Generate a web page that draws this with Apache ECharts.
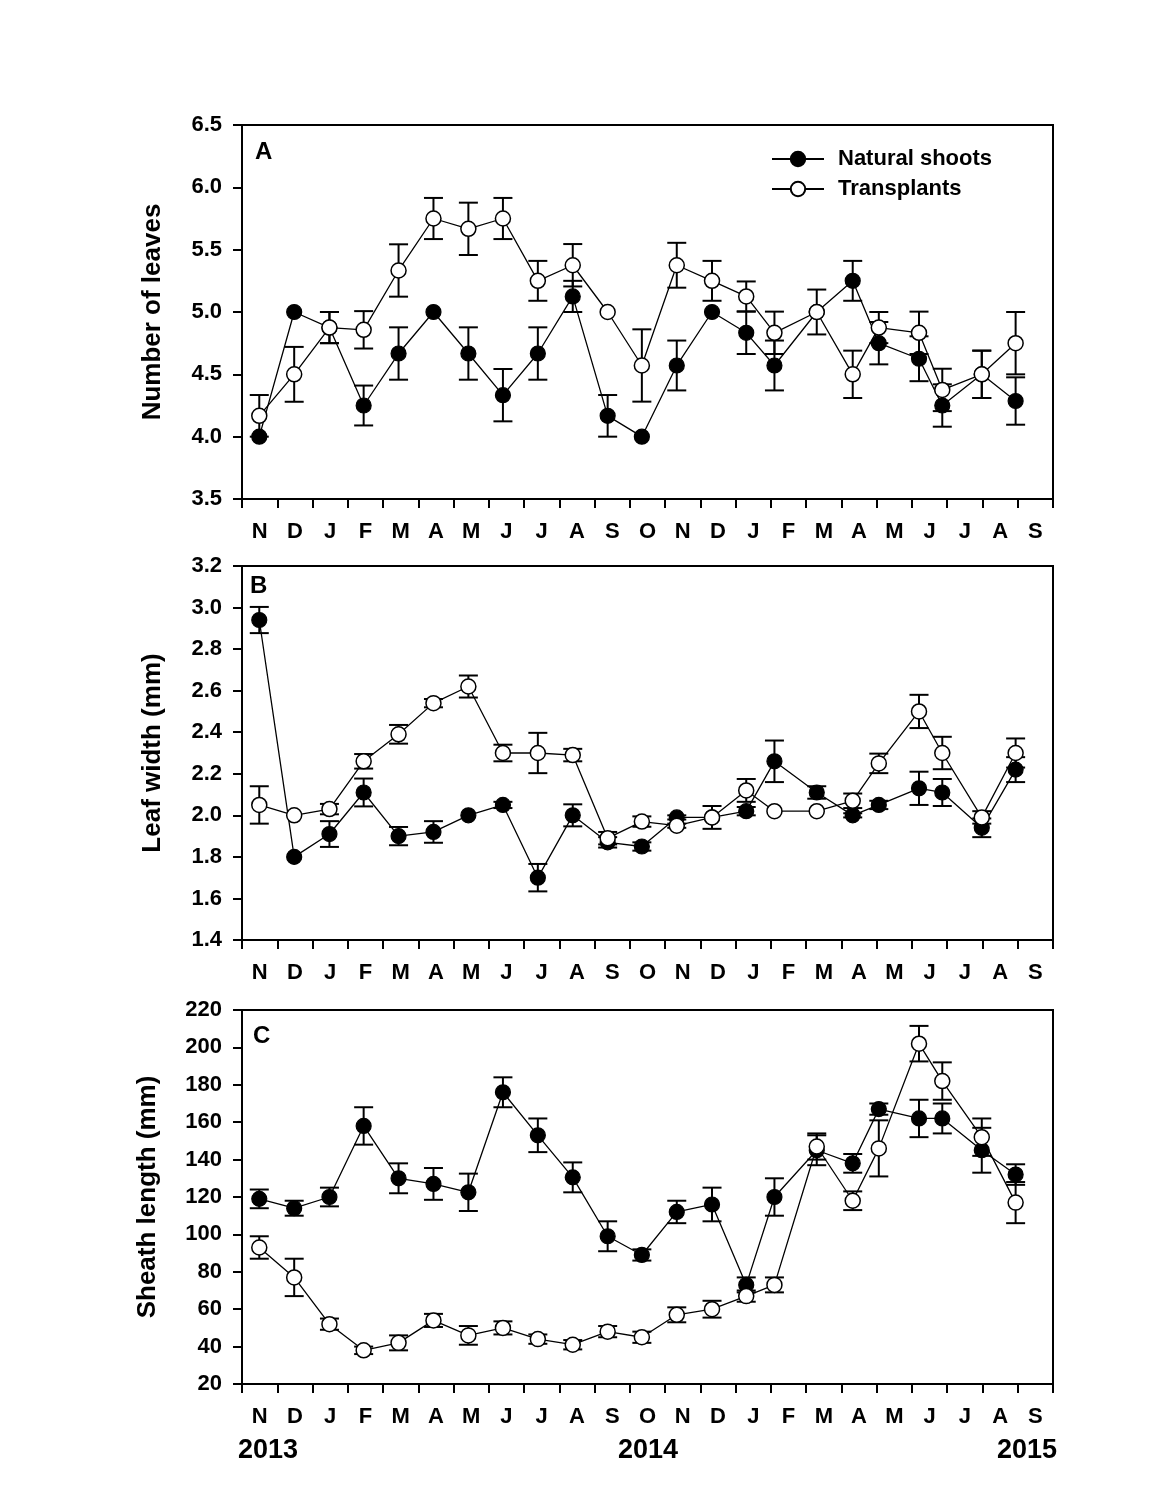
<!DOCTYPE html>
<html>
<head>
<meta charset="utf-8">
<script src="https://cdn.jsdelivr.net/npm/echarts@6/dist/echarts.min.js"></script>
<style>
html,body{margin:0;padding:0;background:#fff;}
#chart{width:1170px;height:1510px;}
</style>
</head>
<body>
<div id="chart"></div>
<script>
// Month tick labels (Nov 2013 .. Sep 2015)
const monthLabels = ['N','D','J','F','M','A','M','J','J','A','S','O','N','D','J','F','M','A','M','J','J','A','S'];
// Sampling dates, in months since 1 Nov 2013
const sampleDates = [0.49, 1.48, 2.48, 3.45, 4.44, 5.43, 6.42, 7.40, 8.39, 9.38, 10.37, 11.34, 12.33, 13.33, 14.30, 15.10, 16.30, 17.32, 18.06, 19.20, 19.86, 20.98, 21.94];

// Panel A: number of leaves
const leavesNatural = [4.0, 5.0, 4.875, 4.25, 4.667, 5.0, 4.667, 4.333, 4.667, 5.125, 4.167, 4.0, 4.571, 5.0, 4.833, 4.571, 5.0, 5.25, 4.75, 4.625, 4.25, 4.5, 4.286];
const leavesNaturalSE = [0, 0, 0.125, 0.16, 0.21, 0, 0.21, 0.21, 0.21, 0.125, 0.167, 0, 0.2, 0, 0.17, 0.2, 0, 0.16, 0.17, 0.18, 0.17, 0.19, 0.19];
const leavesTransplant = [4.167, 4.5, 4.875, 4.857, 5.333, 5.75, 5.667, 5.75, 5.25, 5.375, 5.0, 4.571, 5.375, 5.25, 5.125, 4.833, 5.0, 4.5, 4.875, 4.833, 4.375, 4.5, 4.75];
const leavesTransplantSE = [0.167, 0.22, 0.125, 0.15, 0.21, 0.165, 0.21, 0.165, 0.16, 0.17, 0, 0.29, 0.18, 0.16, 0.12, 0.17, 0.18, 0.19, 0.125, 0.17, 0.17, 0.19, 0.25];

// Panel B: leaf width (mm)
const widthNatural = [2.94, 1.80, 1.91, 2.11, 1.90, 1.92, 2.00, 2.05, 1.70, 2.00, 1.87, 1.85, 1.99, 1.99, 2.02, 2.26, 2.11, 2.00, 2.05, 2.13, 2.11, 1.94, 2.22];
const widthNaturalSE = [0.063, 0, 0.062, 0.067, 0.044, 0.052, 0, 0.015, 0.066, 0.053, 0.025, 0.02, 0.01, 0, 0.02, 0.1, 0.03, 0.01, 0.02, 0.08, 0.065, 0.045, 0.06];
const widthTransplant = [2.05, 2.00, 2.03, 2.26, 2.39, 2.54, 2.62, 2.30, 2.30, 2.29, 1.89, 1.97, 1.95, 1.99, 2.12, 2.02, 2.02, 2.07, 2.25, 2.50, 2.30, 1.99, 2.30];
const widthTransplantSE = [0.09, 0, 0.025, 0.035, 0.045, 0.02, 0.053, 0.04, 0.097, 0.03, 0.03, 0.025, 0.01, 0.055, 0.055, 0, 0, 0.035, 0.047, 0.08, 0.078, 0.03, 0.07];

// Panel C: sheath length (mm)
const sheathNatural = [119, 114, 120, 158, 130, 127, 122.5, 176, 153, 130.5, 99, 89, 112, 116, 73, 120, 145, 138, 167, 162, 162, 145, 132];
const sheathNaturalSE = [5, 4, 5, 10, 8, 8.5, 10, 8, 9, 8, 8, 3, 6, 9, 4, 10, 8, 5, 3, 10, 8, 12, 5.5];
const sheathTransplant = [93, 77, 52, 38, 42, 54, 46, 50, 44, 41, 48, 45, 57, 60, 67, 73, 147, 118, 146, 202, 182, 152, 117];
const sheathTransplantSE = [6, 10, 3, 2, 4, 3.5, 5, 3.5, 2.5, 2.5, 3, 3, 4, 4.5, 3, 4, 7, 5, 15, 9.5, 10, 10, 11];

const yearLabels = ['2013', '2014', '2015'];
const panelLetters = ['A', 'B', 'C'];
const yTitles = ['Number of leaves', 'Leaf width (mm)', 'Sheath length (mm)'];
const seriesNames = ['Natural shoots', 'Transplants'];

const FONT = '"Liberation Sans", Arial, sans-serif';
const chart = echarts.init(document.getElementById('chart'), null, {renderer: 'canvas'});

const gridTops = [125, 566, 1010];
const grids = gridTops.map(t => ({left: 242, width: 811, top: t, height: 374, show: true, borderColor: '#000', borderWidth: 2, backgroundColor: 'transparent'}));

const xAxes = [];
gridTops.forEach((t, g) => {
  xAxes.push({
    type: 'value', gridIndex: g, min: 0, max: 23, interval: 1, position: 'bottom',
    axisLine: {show: true, lineStyle: {color: '#000', width: 2}},
    axisTick: {show: true, inside: false, length: 9, lineStyle: {color: '#000', width: 2}},
    axisLabel: {show: false}, splitLine: {show: false}
  });
  xAxes.push({
    type: 'category', gridIndex: g, data: monthLabels, boundaryGap: true, position: 'bottom',
    axisLine: {show: false}, axisTick: {show: false}, splitLine: {show: false},
    axisLabel: {show: true, interval: 0, margin: 22, color: '#000', fontSize: 22, fontWeight: 'bold', fontFamily: FONT}
  });
});

const yRanges = [[3.5, 6.5, 0.5, 1], [1.4, 3.2, 0.2, 1], [20, 220, 20, 0]];
const nameGaps = [76, 76, 81];
const yAxes = yRanges.map((r, g) => ({
  type: 'value', gridIndex: g, min: r[0], max: r[1], interval: r[2],
  name: yTitles[g], nameLocation: 'middle', nameGap: nameGaps[g],
  nameTextStyle: {color: '#000', fontSize: 26, fontWeight: 'bold', fontFamily: FONT},
  axisLine: {show: true, lineStyle: {color: '#000', width: 2}},
  axisTick: {show: true, inside: false, length: 9, lineStyle: {color: '#000', width: 2}},
  axisLabel: {margin: 20, color: '#000', fontSize: 22, fontWeight: 'bold', fontFamily: FONT,
    formatter: v => Number(v).toFixed(r[3])},
  splitLine: {show: false}
}));

function errSeries(g, vals, ses) {
  const data = [];
  sampleDates.forEach((d, i) => { if (ses[i] > 0) data.push([d, vals[i] - ses[i], vals[i] + ses[i]]); });
  return {
    type: 'custom', xAxisIndex: g * 2, yAxisIndex: g, z: 2, silent: true,
    encode: {x: 0, y: [1, 2]},
    data: data,
    renderItem: (params, api) => {
      const x = api.value(0);
      const lo = api.coord([x, api.value(1)]);
      const hi = api.coord([x, api.value(2)]);
      const w = 9.5;
      const st = {stroke: '#000', lineWidth: 2};
      return {type: 'group', children: [
        {type: 'line', shape: {x1: lo[0], y1: lo[1], x2: hi[0], y2: hi[1]}, style: st},
        {type: 'line', shape: {x1: lo[0] - w, y1: lo[1], x2: lo[0] + w, y2: lo[1]}, style: st},
        {type: 'line', shape: {x1: hi[0] - w, y1: hi[1], x2: hi[0] + w, y2: hi[1]}, style: st}
      ]};
    }
  };
}

function lineSeries(g, name, vals, filled) {
  return {
    type: 'line', name: name, xAxisIndex: g * 2, yAxisIndex: g, z: filled ? 3 : 4,
    data: sampleDates.map((d, i) => [d, vals[i]]),
    symbol: 'circle', symbolSize: 15, showSymbol: true,
    lineStyle: {color: '#000', width: 1.3},
    itemStyle: filled ? {color: '#000', borderColor: '#000', borderWidth: 1.2} : {color: '#fff', borderColor: '#000', borderWidth: 1.5},
    emphasis: {disabled: true}
  };
}

const panels = [
  [leavesNatural, leavesNaturalSE, leavesTransplant, leavesTransplantSE],
  [widthNatural, widthNaturalSE, widthTransplant, widthTransplantSE],
  [sheathNatural, sheathNaturalSE, sheathTransplant, sheathTransplantSE]
];
const series = [];
panels.forEach((p, g) => {
  series.push(errSeries(g, p[0], p[1]));
  series.push(errSeries(g, p[2], p[3]));
  series.push(lineSeries(g, seriesNames[0], p[0], true));
  series.push(lineSeries(g, seriesNames[1], p[2], false));
});

const letterPos = [[255, 152], [250, 586], [253, 1036]];
const yearPos = [[268, 1451], [648, 1451], [1027, 1451]];
const graphics = [];
panelLetters.forEach((t, i) => graphics.push({type: 'text', left: letterPos[i][0], top: letterPos[i][1] - 12,
  style: {text: t, fill: '#000', font: 'bold 24px ' + FONT}}));
yearLabels.forEach((t, i) => graphics.push({type: 'text', x: yearPos[i][0], y: yearPos[i][1],
  style: {text: t, fill: '#000', font: 'bold 27px ' + FONT, textAlign: 'center', textVerticalAlign: 'middle'}}));

chart.setOption({
  backgroundColor: '#fff',
  animation: false,
  grid: grids,
  xAxis: xAxes,
  yAxis: yAxes,
  legend: {
    data: seriesNames, orient: 'vertical', left: 771, top: 148, padding: 0, itemWidth: 52, itemHeight: 18, itemGap: 8,
    selectedMode: false,
    textStyle: {color: '#000', fontSize: 22, fontWeight: 'bold', fontFamily: FONT, lineHeight: 18, padding: [0, 0, 0, 9]}
  },
  graphic: graphics,
  series: series
});
</script>
</body>
</html>
